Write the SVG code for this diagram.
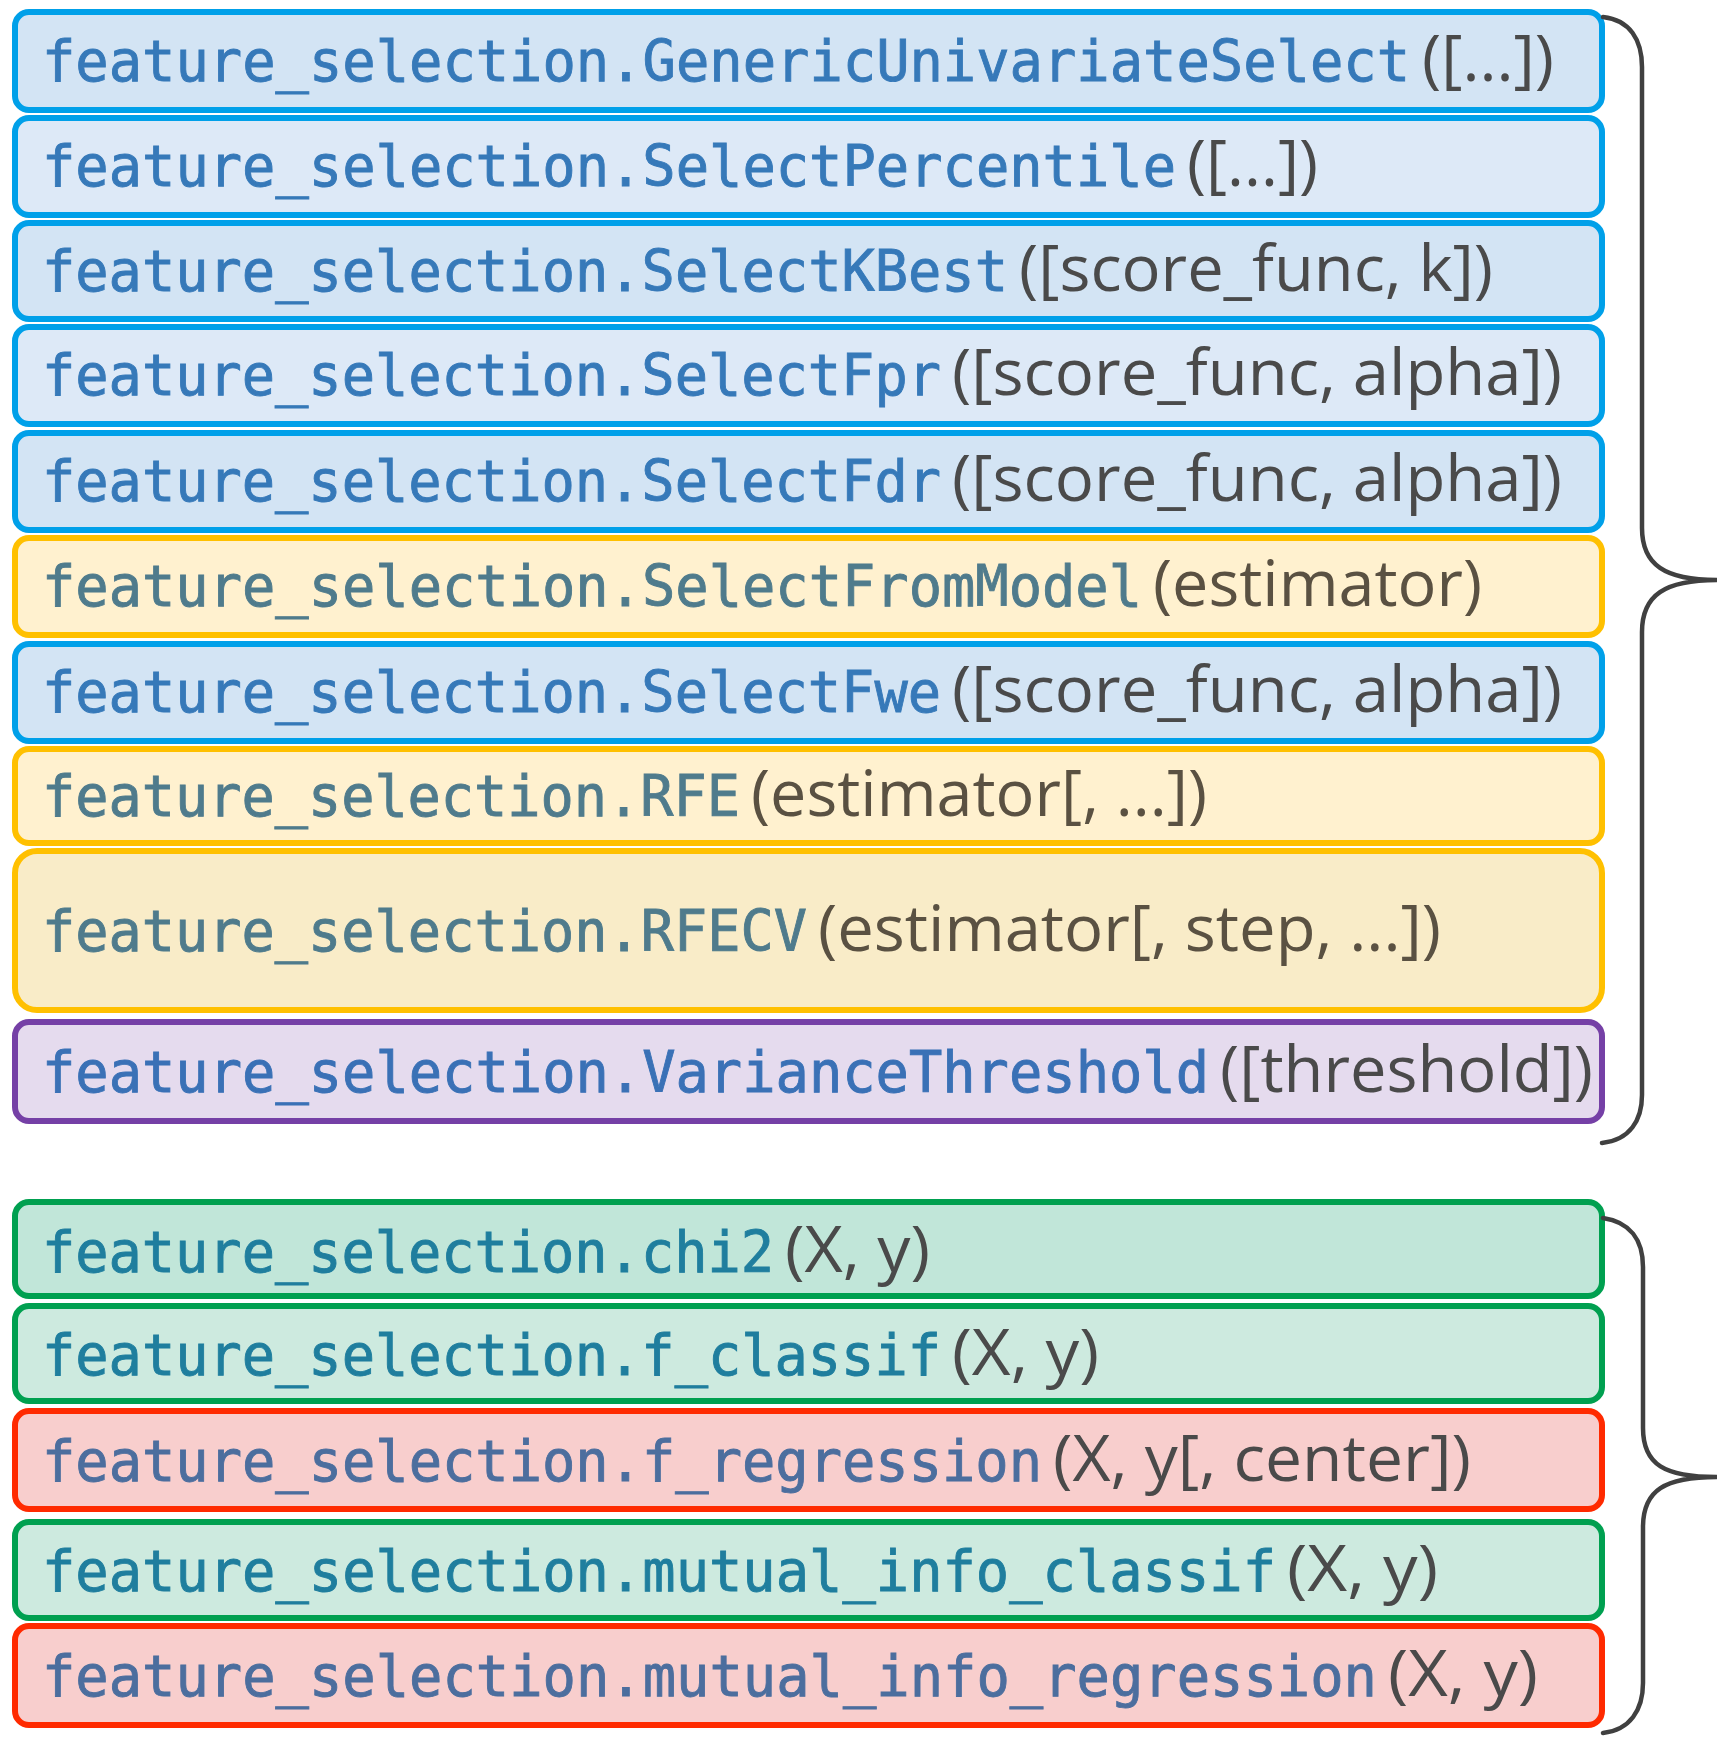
<svg xmlns="http://www.w3.org/2000/svg" width="1722" height="1741" viewBox="0 0 1722 1741">
<style>
.box{stroke-width:6}
.blue{stroke:#00a0e9;fill:#d3e4f4}
.blue2{stroke:#00a0e9;fill:#dde9f7}
.yel{stroke:#ffc000;fill:#fff1cf}
.yel2{stroke:#ffc000;fill:#f9ecc8}
.pur{stroke:#7540a6;fill:#e5dbee}
.grn{stroke:#00a050;fill:#c1e6d9}
.grn2{stroke:#00a050;fill:#cdeadf}
.red{stroke:#ff2a00;fill:#f8cecd}
.m{font-family:"DejaVu Sans Mono","Liberation Mono",monospace;font-size:57px;stroke-width:0.9}
.p{font-family:"Open Sans","Noto Sans",sans-serif;font-size:64px;fill:#4a4a4a;stroke:none}
.tb .m{fill:#3679b9;stroke:#3679b9}
.ty .m{fill:#4f7b8c;stroke:#4f7b8c}
.tp .m{fill:#3a71b6;stroke:#3a71b6}
.tg .m{fill:#1f7e9e;stroke:#1f7e9e}
.tr .m{fill:#4c6e9e;stroke:#4c6e9e}
.ty .p{fill:#5a5142}
.br{fill:none;stroke:#404040;stroke-width:4.5;stroke-linecap:round}
</style>
<g id="n1"><rect class="box blue" x="15" y="12" width="1587" height="98" rx="14"/><text class="tb" y="81"><tspan class="m" x="42" textLength="1368" lengthAdjust="spacingAndGlyphs">feature_selection.GenericUnivariateSelect</tspan><tspan class="p" x="1422" textLength="132" lengthAdjust="spacingAndGlyphs">([...])</tspan></text></g>
<g id="n2"><rect class="box blue2" x="15" y="118" width="1587" height="97" rx="14"/><text class="tb" y="186"><tspan class="m" x="42" textLength="1134" lengthAdjust="spacingAndGlyphs">feature_selection.SelectPercentile</tspan><tspan class="p" x="1187" textLength="131" lengthAdjust="spacingAndGlyphs">([...])</tspan></text></g>
<g id="n3"><rect class="box blue" x="15" y="223" width="1587" height="96" rx="14"/><text class="tb" y="291"><tspan class="m" x="42" textLength="966" lengthAdjust="spacingAndGlyphs">feature_selection.SelectKBest</tspan><tspan class="p" x="1019" textLength="474" lengthAdjust="spacingAndGlyphs">([score_func, k])</tspan></text></g>
<g id="n4"><rect class="box blue2" x="15" y="327" width="1587" height="97" rx="14"/><text class="tb" y="395"><tspan class="m" x="42" textLength="899" lengthAdjust="spacingAndGlyphs">feature_selection.SelectFpr</tspan><tspan class="p" x="952" textLength="610" lengthAdjust="spacingAndGlyphs">([score_func, alpha])</tspan></text></g>
<g id="n5"><rect class="box blue" x="15" y="433" width="1587" height="97" rx="14"/><text class="tb" y="501"><tspan class="m" x="42" textLength="899" lengthAdjust="spacingAndGlyphs">feature_selection.SelectFdr</tspan><tspan class="p" x="952" textLength="610" lengthAdjust="spacingAndGlyphs">([score_func, alpha])</tspan></text></g>
<g id="n6"><rect class="box yel" x="15" y="538" width="1587" height="97" rx="14"/><text class="ty" y="606"><tspan class="m" x="42" textLength="1100" lengthAdjust="spacingAndGlyphs">feature_selection.SelectFromModel</tspan><tspan class="p" x="1153" textLength="329" lengthAdjust="spacingAndGlyphs">(estimator)</tspan></text></g>
<g id="n7"><rect class="box blue" x="15" y="644" width="1587" height="97" rx="14"/><text class="tb" y="712"><tspan class="m" x="42" textLength="899" lengthAdjust="spacingAndGlyphs">feature_selection.SelectFwe</tspan><tspan class="p" x="952" textLength="610" lengthAdjust="spacingAndGlyphs">([score_func, alpha])</tspan></text></g>
<g id="n8"><rect class="box yel" x="15" y="749" width="1587" height="94" rx="14"/><text class="ty" y="816"><tspan class="m" x="42" textLength="698" lengthAdjust="spacingAndGlyphs">feature_selection.RFE</tspan><tspan class="p" x="751" textLength="456" lengthAdjust="spacingAndGlyphs">(estimator[, ...])</tspan></text></g>
<g id="n9"><rect class="box yel2" x="15" y="851" width="1587" height="159" rx="22"/><text class="ty" y="951"><tspan class="m" x="42" textLength="765" lengthAdjust="spacingAndGlyphs">feature_selection.RFECV</tspan><tspan class="p" x="818" textLength="623" lengthAdjust="spacingAndGlyphs">(estimator[, step, ...])</tspan></text></g>
<g id="n10"><rect class="box pur" x="15" y="1022" width="1587" height="99" rx="14"/><text class="tp" y="1092"><tspan class="m" x="42" textLength="1167" lengthAdjust="spacingAndGlyphs">feature_selection.VarianceThreshold</tspan><tspan class="p" x="1220" textLength="373" lengthAdjust="spacingAndGlyphs">([threshold])</tspan></text></g>
<g id="n11"><rect class="box grn" x="15" y="1202" width="1587" height="94" rx="14"/><text class="tg" y="1272"><tspan class="m" x="42" textLength="732" lengthAdjust="spacingAndGlyphs">feature_selection.chi2</tspan><tspan class="p" x="785" textLength="145" lengthAdjust="spacingAndGlyphs">(X, y)</tspan></text></g>
<g id="n12"><rect class="box grn2" x="15" y="1306" width="1587" height="95" rx="14"/><text class="tg" y="1375"><tspan class="m" x="42" textLength="899" lengthAdjust="spacingAndGlyphs">feature_selection.f_classif</tspan><tspan class="p" x="952" textLength="147" lengthAdjust="spacingAndGlyphs">(X, y)</tspan></text></g>
<g id="n13"><rect class="box red" x="15" y="1411" width="1587" height="98" rx="14"/><text class="tr" y="1481"><tspan class="m" x="42" textLength="1000" lengthAdjust="spacingAndGlyphs">feature_selection.f_regression</tspan><tspan class="p" x="1053" textLength="418" lengthAdjust="spacingAndGlyphs">(X, y[, center])</tspan></text></g>
<g id="n14"><rect class="box grn2" x="15" y="1522" width="1587" height="96" rx="14"/><text class="tg" y="1591"><tspan class="m" x="42" textLength="1234" lengthAdjust="spacingAndGlyphs">feature_selection.mutual_info_classif</tspan><tspan class="p" x="1287" textLength="151" lengthAdjust="spacingAndGlyphs">(X, y)</tspan></text></g>
<g id="n15"><rect class="box red" x="15" y="1626" width="1587" height="99" rx="14"/><text class="tr" y="1696"><tspan class="m" x="42" textLength="1335" lengthAdjust="spacingAndGlyphs">feature_selection.mutual_info_regression</tspan><tspan class="p" x="1388" textLength="150" lengthAdjust="spacingAndGlyphs">(X, y)</tspan></text></g>
<g id="connectors">
<path class="br" d="M1603,17 C1630,20 1642,40 1642,67 L1642,528 C1642,565 1665,580 1717,580 C1665,580 1642,595 1642,632 L1642,1095 C1642,1120 1630,1140 1602,1143"/>
<path class="br" d="M1603,1218 C1630,1222 1643,1240 1643,1267 L1643,1428 C1643,1465 1665,1477 1717,1477 C1665,1477 1643,1490 1643,1527 L1643,1683 C1643,1710 1630,1730 1603,1733"/>
</g>
</svg>
